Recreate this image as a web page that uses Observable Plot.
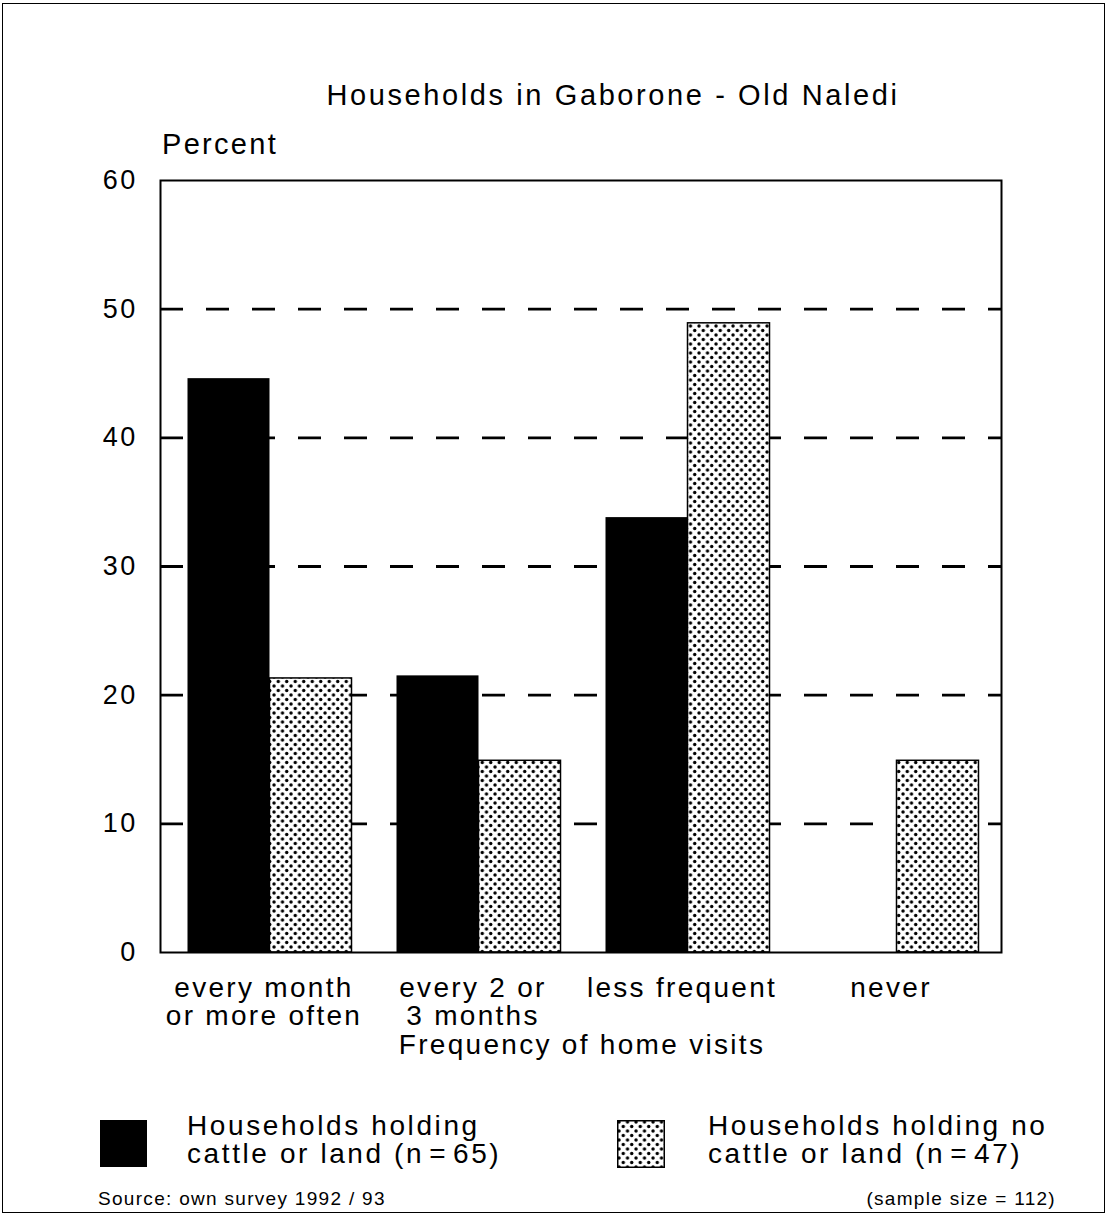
<!DOCTYPE html>
<html>
<head>
<meta charset="utf-8">
<script src="https://cdn.jsdelivr.net/npm/d3@7"></script>
<script src="https://cdn.jsdelivr.net/npm/@observablehq/plot@0.6"></script>
<style>
  html, body { margin: 0; padding: 0; background: #fff; }
  #page { position: relative; width: 1110px; height: 1220px; font-family: "Liberation Sans", Arial, Helvetica, sans-serif; color: #000; }
  #page svg text { letter-spacing: 2.3px; }
  .t { position: absolute; white-space: pre; line-height: 1; letter-spacing: 2.3px; }
  #frameBox { position: absolute; left: 2px; top: 3px; width: 1101px; height: 1208px; border: 1.5px solid #000; }
  .sw { position: absolute; }
</style>
</head>
<body>
<div id="page">
  <div id="frameBox"></div>
</div>
<script>
// ---- data ----
const categories = ["every month\nor more often", "every 2 or\n3 months", "less frequent", "never"];
const holdingValues = [44.6, 21.5, 33.8, 0];      // Households holding cattle or land (n = 65)
const noHoldingValues = [21.3, 14.9, 48.9, 14.9]; // Households holding no cattle or land (n = 47)
const yTicks = [0, 10, 20, 30, 40, 50, 60];
const gridTicks = [10, 20, 30, 40, 50];
const seriesLabels = ["Households holding\ncattle or land (n\u200a=\u200a65)", "Households holding no\ncattle or land (n\u200a=\u200a47)"];
const titleText = "Households in Gaborone - Old Naledi";
const yLabelText = "Percent";
const xLabelText = "Frequency of home visits";
const sourceText = "Source: own survey 1992 / 93";
const sampleText = "(sample size = 112)";

const holding = categories.map((c, i) => ({cat: c, value: holdingValues[i]}));
const noHolding = categories.map((c, i) => ({cat: c, value: noHoldingValues[i]}));

const FONT = '"Liberation Sans", Arial, Helvetica, sans-serif';

const chart = Plot.plot({
  width: 1110,
  height: 1220,
  marginTop: 180,
  marginBottom: 268,
  marginLeft: 160,
  marginRight: 109,
  style: {fontFamily: FONT, fontSize: "27px", color: "#000", background: "transparent", overflow: "visible"},
  x: {domain: categories, range: [165, 1001], padding: 0, axis: null},
  y: {domain: [0, 60], ticks: yTicks, tickSize: 0, tickPadding: 23, label: null, tickFormat: d => String(d)},
  marks: [
    Plot.ruleY(gridTicks, {stroke: "#000", strokeWidth: 2.8, strokeDasharray: "23,23"}),
    Plot.barY(holding, {x: "cat", y: "value", fill: "#000", insetLeft: 22.5, insetRight: 104.5}),
    Plot.barY(noHolding, {x: "cat", y: "value", fill: "url(#dots)", stroke: "#000", strokeWidth: 1.5, insetLeft: 104.5, insetRight: 22.5}),
    Plot.frame({stroke: "#000", strokeWidth: 2}),
    Plot.text(categories, {x: d => d, frameAnchor: "bottom", lineAnchor: "top", dy: 25, dx: -6, lineHeight: 1.0, fontSize: 28, fill: "#000"})
  ]
});

// dotted pattern
function addPattern(svgSel, id) {
  const p = svgSel.insert("defs", ":first-child").append("pattern")
    .attr("id", id).attr("patternUnits", "userSpaceOnUse")
    .attr("width", 8.5).attr("height", 9);
  p.append("rect").attr("width", 8.5).attr("height", 9).attr("fill", "#fff");
  p.append("circle").attr("cx", 2).attr("cy", 2).attr("r", 1.7).attr("fill", "#000");
  p.append("circle").attr("cx", 6.25).attr("cy", 6.5).attr("r", 1.7).attr("fill", "#000");
}
addPattern(d3.select(chart), "dots");
chart.style.position = "absolute";
chart.style.left = "0px";
chart.style.top = "0px";
const page = document.getElementById("page");
page.appendChild(chart);

// text overlays
function addText(txt, css) {
  const d = document.createElement("div");
  d.className = "t";
  d.textContent = txt;
  Object.assign(d.style, css);
  page.appendChild(d);
  return d;
}
addText(titleText, {left: "0px", width: "1226px", textAlign: "center", top: "81px", fontSize: "29px", letterSpacing: "2.6px"});
addText(yLabelText, {left: "162px", top: "130px", fontSize: "29px"});
addText(xLabelText, {left: "0px", width: "1164px", textAlign: "center", top: "1031px", fontSize: "28px"});
addText(seriesLabels[0], {left: "187px", top: "1112px", fontSize: "28px", lineHeight: "28px", letterSpacing: "2.6px"});
addText(seriesLabels[1], {left: "708px", top: "1112px", fontSize: "28px", lineHeight: "28px", letterSpacing: "2.6px"});
addText(sourceText, {left: "98px", top: "1189px", fontSize: "19px", letterSpacing: "1.3px"});
addText(sampleText, {right: "54px", top: "1189px", fontSize: "19px", letterSpacing: "1.3px"});

// legend swatches
const sw1 = d3.select(page).append("svg").attr("class", "sw")
  .style("left", "100px").style("top", "1120px").attr("width", 47).attr("height", 47);
sw1.append("rect").attr("width", 47).attr("height", 47).attr("fill", "#000");
const sw2 = d3.select(page).append("svg").attr("class", "sw")
  .style("left", "617px").style("top", "1120px").attr("width", 48).attr("height", 48);
sw2.append("rect").attr("x", 0.75).attr("y", 0.75).attr("width", 46.5).attr("height", 46.5)
  .attr("fill", "url(#dots)").attr("stroke", "#000").attr("stroke-width", 1.5);
</script>
</body>
</html>
